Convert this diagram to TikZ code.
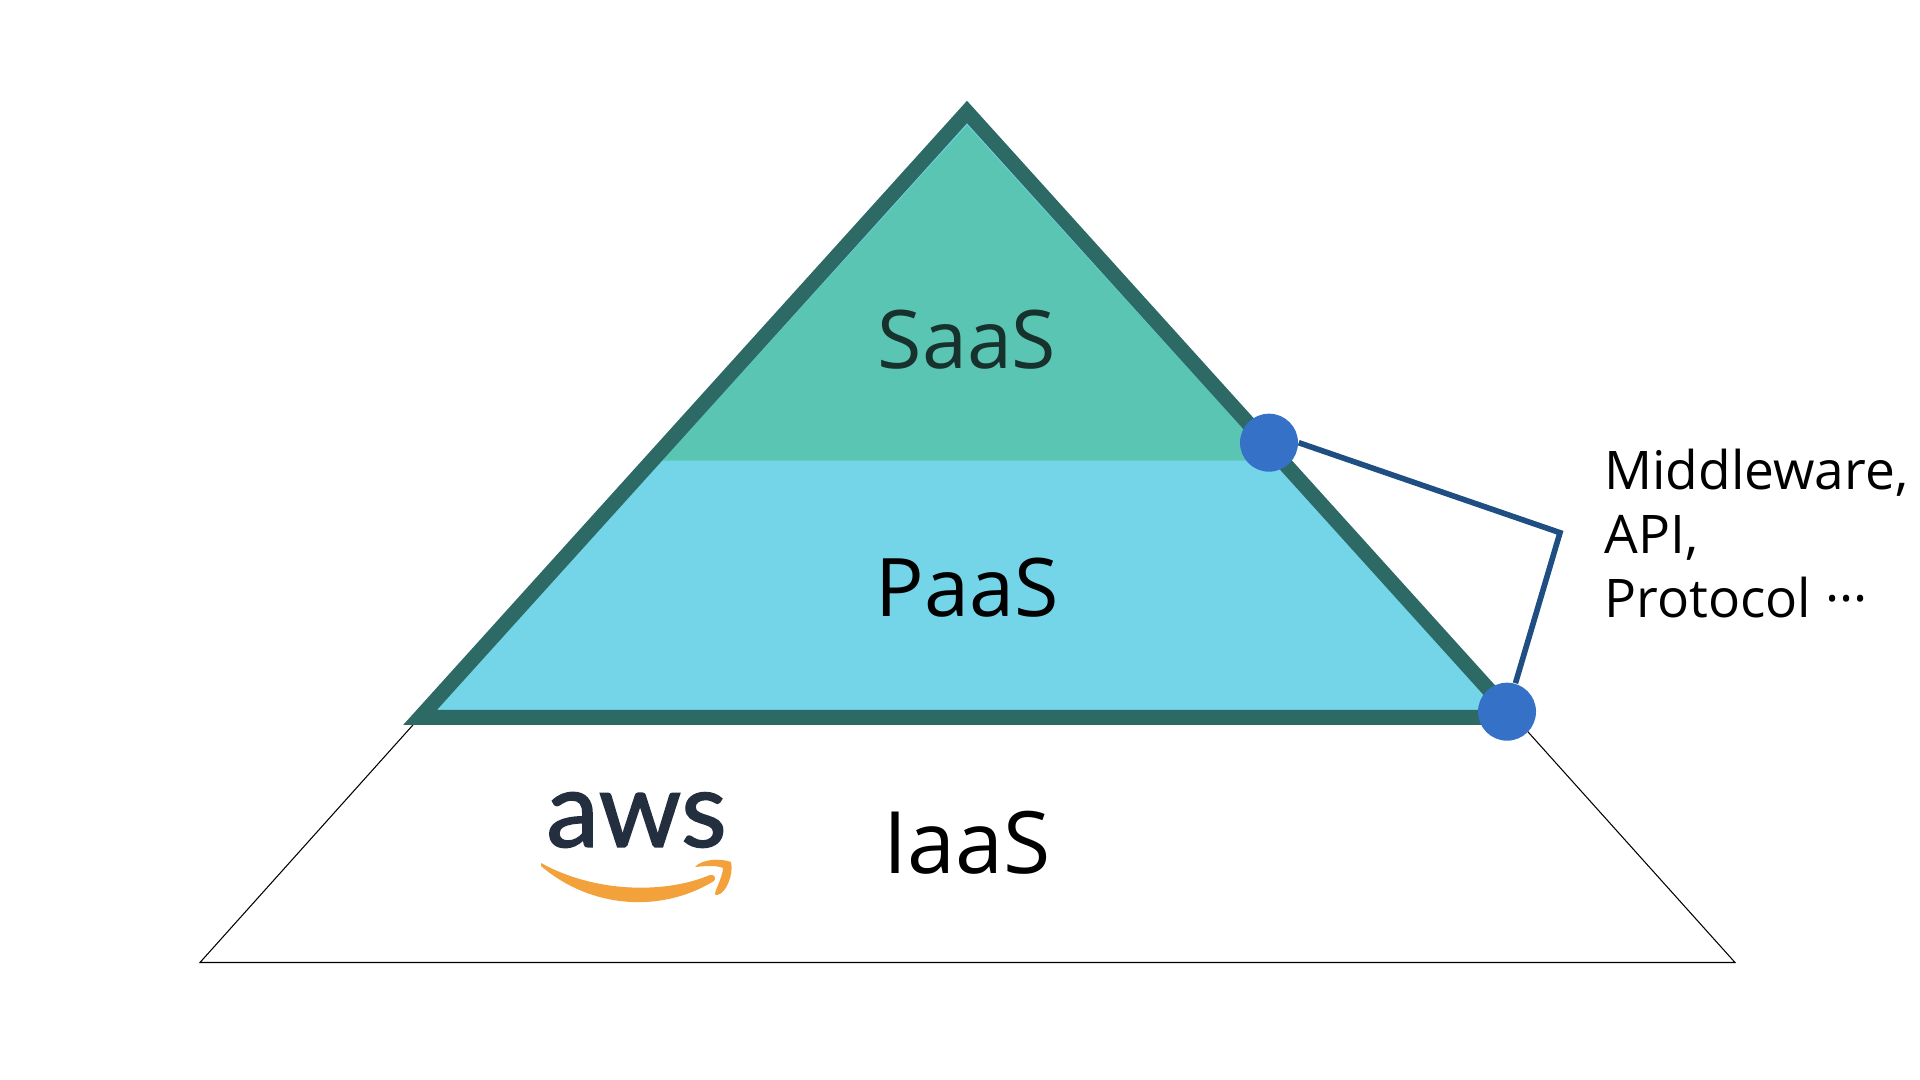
\documentclass[tikz,border=0pt]{standalone}
\usepackage{fontspec}
\setmainfont{Open Sans}
\newfontfamily\logofont[FakeBold=1.5]{Lato}
\usepackage{xcolor}
\definecolor{pyramidedge}{HTML}{2D6A66}
\definecolor{saasfill}{HTML}{5BC5B3}
\definecolor{paasfill}{HTML}{74D4E8}
\definecolor{dotblue}{HTML}{3571C7}
\definecolor{linkblue}{HTML}{1F4E82}
\definecolor{awsdark}{HTML}{232F3E}
\definecolor{awsorange}{HTML}{F3A13A}

\begin{document}
\begin{tikzpicture}[
    layer/.style={font=\fontsize{23}{27}\selectfont, align=center},
    note/.style={font=\fontsize{15.15}{18.2}\selectfont, align=left, anchor=west, text=black},
    dot/.style={circle, fill=dotblue, inner sep=0pt, minimum size=5.8mm},
    link/.style={draw=linkblue, line width=1.6pt, line join=miter},
  ]
  \useasboundingbox (0,0) rectangle (19.2,10.8);

  % wide base triangle, its tip stays under the top part
  \draw[black, line width=0.3pt] (2.0,1.175) -- (17.35,1.175) -- (9.67,9.73) -- cycle;

  % top part
  \fill[paasfill] (4.2,3.625) -- (15.14,3.625) -- (9.67,9.68) -- cycle;
  \fill[saasfill] (6.62,6.193) -- (12.72,6.193) -- (9.67,9.55) -- cycle;
  \draw[pyramidedge, line width=4.27pt, line join=miter] (4.2,3.625) -- (15.14,3.625) -- (9.67,9.68) -- cycle;

  % labels of the layers
  \node[layer, text=black!75!saasfill] (saas) at (9.67,7.40) {SaaS};
  \node[layer, text=black] (paas) at (9.67,4.92) {PaaS};
  \node[layer, text=black, font=\fontsize{24.5}{28}\selectfont] (iaas) at (9.67,2.37) {IaaS};

  % logo
  \node[font=\logofont\fontsize{30}{31}\selectfont, text=awsdark, inner sep=0pt] (aws) at (6.365,2.60) {aws};
  \fill[awsorange] (5.41,2.17) .. controls (5.95,1.87) and (6.65,1.86) .. (7.10,2.05)
    .. controls (7.15,2.06) and (7.16,2.01) .. (7.14,1.99)
    .. controls (6.60,1.66) and (5.90,1.72) .. (5.41,2.14) -- cycle;
  \fill[awsorange] (6.95,2.13) .. controls (7.02,2.21) and (7.20,2.22) .. (7.31,2.18)
    .. controls (7.34,2.06) and (7.26,1.86) .. (7.17,1.85)
    .. controls (7.14,1.85) and (7.15,1.88) .. (7.16,1.90)
    .. controls (7.19,1.97) and (7.23,2.07) .. (7.23,2.12)
    .. controls (7.16,2.15) and (7.05,2.14) .. (6.95,2.13) -- cycle;

  % the two points and what joins them
  \node[dot] (upper) at (12.69,6.373) {};
  \node[dot] (lower) at (15.07,3.683) {};
  \coordinate (bend) at (15.60,5.473);
  \draw[link] (upper.east) -- (bend) -- (lower);

  \node[note] (stack) at (15.92,5.46) {Middleware,\\API,\\Protocol ···};
\end{tikzpicture}
\end{document}
